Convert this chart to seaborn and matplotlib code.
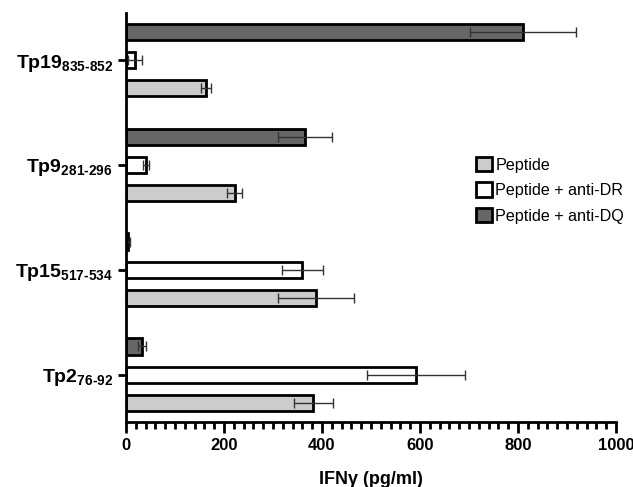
import matplotlib
matplotlib.use('Agg')
from matplotlib import pyplot as plt
from matplotlib.patches import Patch
from matplotlib.ticker import MultipleLocator
import pandas as pd
import seaborn as sns

peptides = ['Tp19', 'Tp9', 'Tp15', 'Tp2']
ranges = ['835-852', '281-296', '517-534', '76-92']
treatments = ['Peptide + anti-DQ', 'Peptide + anti-DR', 'Peptide']

# means and error (pg/ml), per treatment, peptides in the order above
dq_mean = [810, 365, 5, 33]
dq_err = [108, 55, 3, 8]
dr_mean = [18, 41, 360, 592]
dr_err = [14, 7, 42, 100]
pep_mean = [163, 222, 388, 382]
pep_err = [10, 15, 77, 40]

colors = {'Peptide': '#cccccc', 'Peptide + anti-DR': '#ffffff', 'Peptide + anti-DQ': '#666666'}

rows = []
for i, p in enumerate(peptides):
    rows.append({'peptide': p, 'treatment': 'Peptide + anti-DQ', 'value': dq_mean[i]})
    rows.append({'peptide': p, 'treatment': 'Peptide + anti-DR', 'value': dr_mean[i]})
    rows.append({'peptide': p, 'treatment': 'Peptide', 'value': pep_mean[i]})
df = pd.DataFrame(rows)
errs = {'Peptide + anti-DQ': dq_err, 'Peptide + anti-DR': dr_err, 'Peptide': pep_err}

sns.set_style('ticks')
plt.rcParams['font.family'] = ['Liberation Sans', 'DejaVu Sans']
plt.rcParams['mathtext.fontset'] = 'custom'
plt.rcParams['mathtext.rm'] = 'Liberation Sans:bold'
plt.rcParams['mathtext.it'] = 'Liberation Sans:bold'
plt.rcParams['mathtext.bf'] = 'Liberation Sans:bold'
for k in ['text.color', 'axes.labelcolor', 'xtick.color', 'ytick.color', 'axes.edgecolor']:
    plt.rcParams[k] = 'black'

fig = plt.figure(figsize=(6.33, 4.87), dpi=100)
ax = fig.add_axes([0.199, 0.1335, 0.774, 0.84])

sns.barplot(data=df, x='value', y='peptide', hue='treatment', order=peptides,
            hue_order=treatments, palette=colors, width=0.81, gap=0.43,
            edgecolor='black', linewidth=2, errorbar=None, legend=False, ax=ax)

# error bars placed on the bars seaborn drew
for cont, t in zip(ax.containers, treatments):
    ys = [b.get_y() + b.get_height() / 2 for b in cont]
    xs = [b.get_width() for b in cont]
    ax.errorbar(xs, ys, xerr=errs[t], fmt='none', ecolor='#333333',
                elinewidth=1, capsize=3.5, capthick=1, zorder=1)

ax.set_xlim(0, 1000)
ax.set_ylim(3.45, -0.45)
ax.xaxis.set_major_locator(MultipleLocator(200))
ax.xaxis.set_minor_locator(MultipleLocator(20))
ax.tick_params(axis='x', which='major', length=8, width=2, labelsize=12)
ax.tick_params(axis='x', which='minor', length=5, width=2)
ax.tick_params(axis='y', length=6, width=2, labelsize=14)
ax.set_yticks(range(len(peptides)))
ax.set_yticklabels([p + r'$_{' + r.replace('-', r'\text{-}') + '}$' for p, r in zip(peptides, ranges)],
                   fontweight='bold')
for lab in ax.get_xticklabels():
    lab.set_fontweight('bold')
for s in ['left', 'bottom']:
    ax.spines[s].set_linewidth(2)
sns.despine(ax=ax)
ax.set_ylabel('')
ax.set_xlabel('IFNγ (pg/ml)', fontsize=13, fontweight='bold', labelpad=13)

handles = [Patch(facecolor=colors[t], edgecolor='black', linewidth=2, label=t)
           for t in ['Peptide', 'Peptide + anti-DR', 'Peptide + anti-DQ']]
fig.legend(handles=handles, loc='upper left', bbox_to_anchor=(0.739, 0.694),
           frameon=False, fontsize=11.6, handlelength=1.0, handleheight=1.0,
           handletextpad=0.2, labelspacing=0.6, borderpad=0)

fig.savefig('out.png', dpi=100)
